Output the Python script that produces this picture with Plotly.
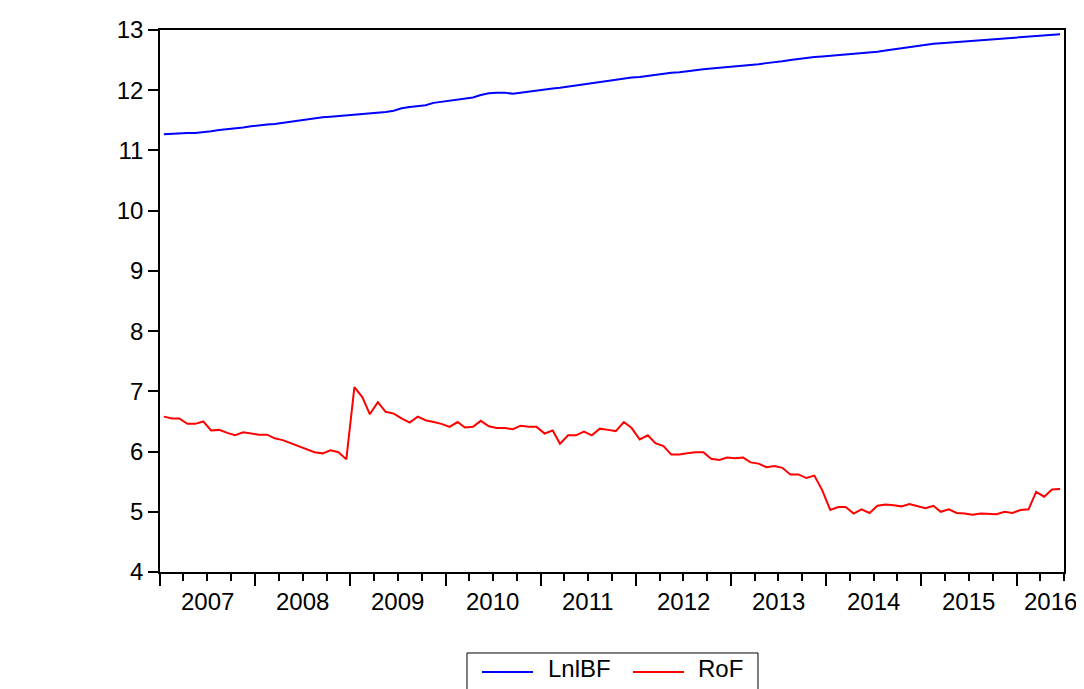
import pandas as pd
import plotly.graph_objects as go

# Monthly observations 2007M01 - 2016M06
start_month = "2007-01-01"
n_obs = 114

lnlbf = [
    11.27, 11.28, 11.28, 11.29, 11.29, 11.30, 11.32, 11.34, 11.35, 11.37, 11.38, 11.40,
    11.42, 11.43, 11.44, 11.46, 11.48, 11.50, 11.52, 11.54, 11.55, 11.56, 11.57, 11.59,
    11.60, 11.61, 11.61, 11.62, 11.64, 11.66, 11.70, 11.72, 11.73, 11.75, 11.79, 11.81,
    11.83, 11.84, 11.86, 11.88, 11.92, 11.95, 11.96, 11.96, 11.94, 11.96, 11.98, 12.00,
    12.01, 12.03, 12.04, 12.06, 12.08, 12.10, 12.12, 12.14, 12.16, 12.18, 12.20, 12.21,
    12.22, 12.24, 12.25, 12.27, 12.29, 12.30, 12.32, 12.34, 12.35, 12.36, 12.37, 12.38,
    12.39, 12.40, 12.42, 12.43, 12.45, 12.46, 12.48, 12.50, 12.52, 12.53, 12.55, 12.56,
    12.57, 12.58, 12.59, 12.61, 12.62, 12.63, 12.64, 12.66, 12.68, 12.70, 12.72, 12.74,
    12.76, 12.77, 12.78, 12.79, 12.80, 12.81, 12.82, 12.83, 12.84, 12.85, 12.86, 12.87,
    12.88, 12.88, 12.89, 12.90, 12.91, 12.93,
]

rof = [
    6.58, 6.55, 6.55, 6.46, 6.46, 6.50, 6.35, 6.36, 6.31, 6.27, 6.32, 6.30,
    6.28, 6.28, 6.22, 6.19, 6.14, 6.08, 6.03, 5.99, 5.97, 6.02, 5.99, 5.87,
    7.07, 6.90, 6.62, 6.82, 6.66, 6.63, 6.55, 6.48, 6.58, 6.52, 6.49, 6.46,
    6.41, 6.49, 6.40, 6.41, 6.51, 6.42, 6.39, 6.39, 6.37, 6.43, 6.41, 6.41,
    6.30, 6.35, 6.13, 6.27, 6.27, 6.33, 6.27, 6.38, 6.36, 6.34, 6.49, 6.39,
    6.20, 6.27, 6.14, 6.09, 5.95, 5.95, 5.97, 5.99, 5.99, 5.88, 5.86, 5.90,
    5.89, 5.90, 5.82, 5.80, 5.74, 5.76, 5.73, 5.62, 5.62, 5.56, 5.60, 5.36,
    5.03, 5.08, 5.08, 4.97, 5.04, 4.98, 5.10, 5.12, 5.11, 5.09, 5.13, 5.10,
    5.06, 5.10, 5.00, 5.04, 4.98, 4.97, 4.95, 4.97, 4.96, 4.96, 5.00, 4.98,
    5.03, 5.04, 5.33, 5.25, 5.37, 5.38,
]

series_names = ["LnlBF", "RoF"]
series_colors = ["#0000FF", "#FF0000"]

year_labels = ["2007", "2008", "2009", "2010", "2011", "2012", "2013", "2014", "2015", "2016"]
year_label_pos = ["2007-07-01", "2008-07-01", "2009-07-01", "2010-07-01", "2011-07-01",
                  "2012-07-01", "2013-07-01", "2014-07-01", "2015-07-01", "2016-05-12"]

x_range = ["2007-01-01", "2016-07-01"]

dates = pd.date_range(start_month, periods=n_obs, freq="MS") + pd.Timedelta(days=15)

FONT = "Liberation Sans, Arial, sans-serif"

fig = go.Figure()
for name, vals, col in zip(series_names, [lnlbf, rof], series_colors):
    fig.add_trace(go.Scatter(x=dates, y=vals, mode="lines", name=name,
                             line=dict(color=col, width=2), showlegend=False))

for lab, pos in zip(year_labels, year_label_pos):
    fig.add_annotation(x=pos, y=0, xref="x", yref="paper", text=lab,
                       showarrow=False, yanchor="middle", xanchor="center",
                       yshift=-29, font=dict(size=24, color="black", family=FONT))

# Manual legend box (EViews style), positions in paper coordinates
leg_y = -0.1845
fig.add_shape(type="rect", xref="paper", yref="paper", x0=0.3396, x1=0.6615,
              y0=-0.25, y1=-0.1494, line=dict(color="black", width=1),
              fillcolor="white", layer="above")
legend_line_x = [(0.3562, 0.4126), (0.5232, 0.5796)]
legend_text_x = [0.4270, 0.5929]
for name, col, (lx0, lx1), tx in zip(series_names, series_colors, legend_line_x, legend_text_x):
    fig.add_shape(type="line", xref="paper", yref="paper", x0=lx0, x1=lx1,
                  y0=leg_y, y1=leg_y, line=dict(color=col, width=2), layer="above")
    fig.add_annotation(x=tx, y=leg_y, xref="paper", yref="paper", text=name,
                       showarrow=False, xanchor="left", yanchor="middle", yshift=3,
                       font=dict(size=24, color="black", family=FONT))

fig.update_layout(
    width=1076, height=681,
    margin=dict(l=152, r=20, t=22, b=117, autoexpand=False),
    paper_bgcolor="white", plot_bgcolor="white",
    font=dict(family=FONT, size=24, color="black"),
    showlegend=False,
)

fig.update_xaxes(
    type="date", range=x_range, showgrid=False, zeroline=False,
    showline=True, linecolor="black", linewidth=1.5, mirror=True,
    ticks="outside", tick0="2007-01-01", dtick="M12", ticklen=12, tickwidth=1.5,
    tickcolor="black", showticklabels=False,
    minor=dict(ticks="outside", dtick="M3", tick0="2007-01-01", ticklen=7,
               tickwidth=1.5, tickcolor="black", showgrid=False),
)
fig.update_yaxes(
    range=[4, 13], dtick=1, tick0=4, showgrid=False, zeroline=False,
    showline=True, linecolor="black", linewidth=1.5, mirror=True,
    ticks="outside", ticklen=10, tickwidth=1.5, tickcolor="black",
    tickfont=dict(size=24, family=FONT),
)

fig.write_html("out.html")
